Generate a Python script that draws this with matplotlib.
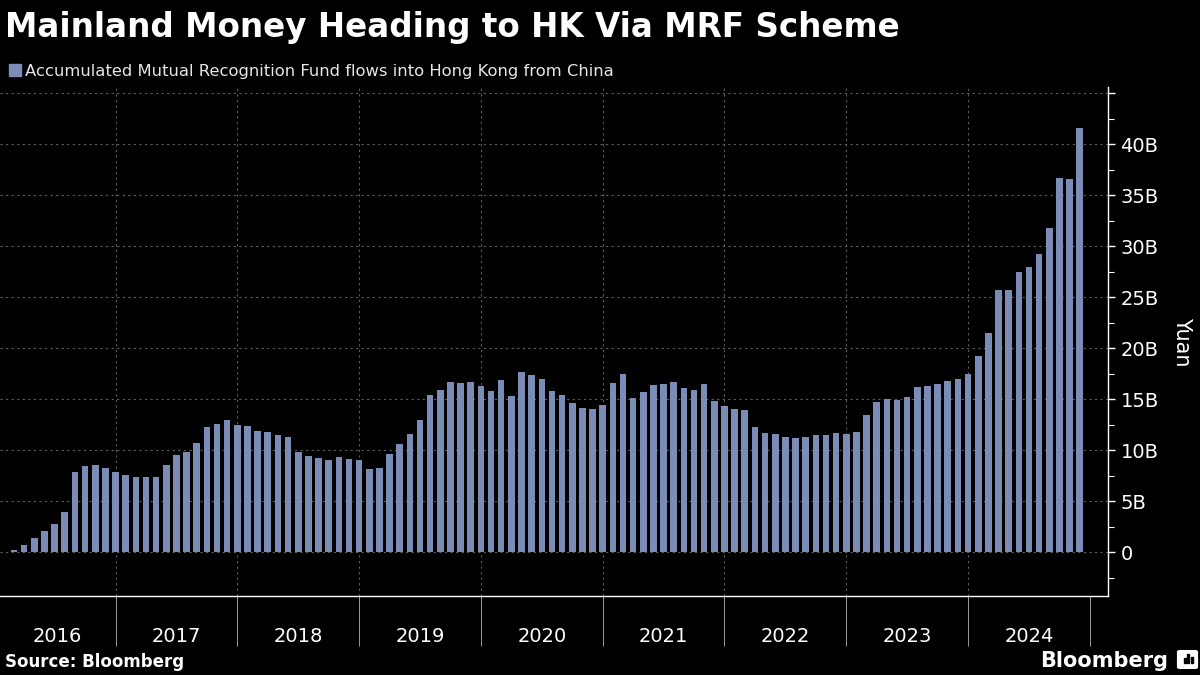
import matplotlib
matplotlib.use('Agg')
import matplotlib.pyplot as plt
from matplotlib.patches import Rectangle, FancyBboxPatch
from matplotlib.ticker import FixedLocator

# accumulated MRF flows, billion yuan, month ends Jan 2016 .. Nov 2024
flows = [
    0.05, 0.23, 0.72, 1.40, 2.10, 2.77, 3.94, 7.85, 8.44, 8.54, 8.25, 7.85,      # 2016
    7.56, 7.37, 7.37, 7.37, 8.54, 9.51, 9.81, 10.69, 12.25, 12.54, 12.93, 12.45,  # 2017
    12.35, 11.86, 11.76, 11.47, 11.27, 9.81, 9.42, 9.22, 9.03, 9.32, 9.12, 9.03,  # 2018
    8.15, 8.25, 9.61, 10.59, 11.57, 12.94, 15.38, 15.87, 16.65, 16.55, 16.66, 16.29,  # 2019
    15.80, 16.88, 15.31, 17.66, 17.37, 16.98, 15.80, 15.41, 14.63, 14.14, 14.04, 14.44,  # 2020
    16.59, 17.46, 15.12, 15.71, 16.39, 16.49, 16.68, 16.10, 15.90, 16.49, 14.83, 14.34,  # 2021
    14.01, 13.91, 12.25, 11.66, 11.57, 11.27, 11.18, 11.27, 11.47, 11.47, 11.66, 11.57,  # 2022
    11.76, 13.42, 14.69, 14.99, 14.92, 15.18, 16.16, 16.26, 16.45, 16.75, 16.94, 17.47,  # 2023
    19.20, 21.44, 25.68, 25.68, 27.44, 27.92, 29.19, 31.83, 36.69, 36.59, 41.58,        # 2024
]
years = ['2016', '2017', '2018', '2019', '2020', '2021', '2022', '2023', '2024']
y_ticks = [0, 5, 10, 15, 20, 25, 30, 35, 40, 45]
y_labels = ['0', '5B', '10B', '15B', '20B', '25B', '30B', '35B', '40B', '']

bar_color = '#7b8db6'
grid_color = '#5e5e5e'

fig = plt.figure(figsize=(12, 6.75), dpi=100, facecolor='black')
ax = fig.add_axes([0.0, 0.117, 0.9233, 0.754], facecolor='black')

# bars sit on month ends, x counted in months from 1 Jan 2016
x = [i + 1 for i in range(len(flows))]
ax.bar(x, flows, width=0.65, color=bar_color, zorder=3)

ax.set_xlim(0.62, 109.78)
ax.set_ylim(-4.3, 45.6)

# dashed grid
for yv in y_ticks:
    ax.axhline(yv, color=grid_color, lw=0.8, ls=(0, (2, 3)), zorder=1)
for k in range(1, len(years)):
    ax.axvline(12 * k, color=grid_color, lw=0.8, ls=(0, (2, 3)), zorder=1)

for s in ['top', 'left']:
    ax.spines[s].set_visible(False)
for s in ['bottom', 'right']:
    ax.spines[s].set_color('white')
    ax.spines[s].set_linewidth(1.0)

# y axis on the right
ax.yaxis.tick_right()
ax.yaxis.set_major_locator(FixedLocator(y_ticks))
ax.set_yticklabels(y_labels)
ax.yaxis.set_minor_locator(FixedLocator([-2.5, 2.5, 7.5, 12.5, 17.5, 22.5, 27.5, 32.5, 37.5, 42.5]))
ax.tick_params(axis='y', which='major', colors='white', length=5, width=1, pad=4, labelsize=14)
ax.tick_params(axis='y', which='minor', colors='white', length=4, width=0.8)
ax.yaxis.set_label_position('right')
ax.set_ylabel('Yuan', color='white', fontsize=15, rotation=-90, labelpad=24)

# x axis: year separators as long ticks, year names as minor labels
ax.xaxis.set_major_locator(FixedLocator([12 * k for k in range(1, len(years) + 1)]))
ax.xaxis.set_major_formatter(plt.NullFormatter())
ax.tick_params(axis='x', which='major', colors='#9a9a9a', length=36, width=0.7, direction='out')
mids = [(0.62 + 12) / 2] + [12 * k + 6 for k in range(1, len(years))]
ax.xaxis.set_minor_locator(FixedLocator(mids))
ax.set_xticklabels(years, minor=True)
ax.tick_params(axis='x', which='minor', length=0, pad=22, labelsize=14, labelcolor='white')

# title and legend
fig.text(0.004, 0.945, 'Mainland Money Heading to HK Via MRF Scheme', color='white',
         fontsize=23.5, fontweight='bold', va='baseline', ha='left')
fig.patches.append(Rectangle((9 / 1200, 1 - 76 / 675), 11.5 / 1200, 12 / 675,
                             transform=fig.transFigure, color=bar_color))
fig.text(25 / 1200, 1 - 76 / 675, 'Accumulated Mutual Recognition Fund flows into Hong Kong from China',
         color='#e6e6e6', fontsize=11.8, va='baseline', ha='left')

# footer
fig.text(0.004, 1 - 667 / 675, 'Source: Bloomberg', color='white', fontsize=12,
         fontweight='bold', va='baseline', ha='left')
fig.text(1168 / 1200, 1 - 667 / 675, 'Bloomberg', color='white', fontsize=15,
         fontweight='bold', va='baseline', ha='right')
fig.patches.append(FancyBboxPatch((1180 / 1200, 1 - 667 / 675), 15 / 1200, 15 / 675,
                                  boxstyle='round,pad=0.002', transform=fig.transFigure,
                                  color='white'))
# little bars inside the logo box
for bx, bh in [(1183.5, 5), (1187, 9), (1190.5, 6)]:
    fig.patches.append(Rectangle((bx / 1200, 1 - 663 / 675), 2 / 1200, bh / 675,
                                 transform=fig.transFigure, color='black'))

fig.savefig('out.png', dpi=100, facecolor='black')
